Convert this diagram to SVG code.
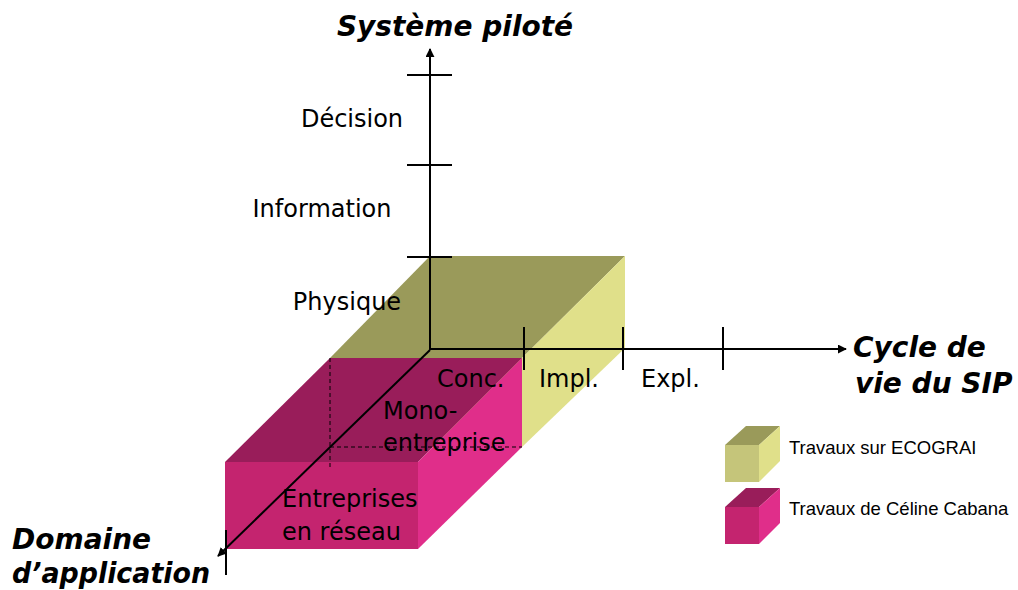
<svg xmlns="http://www.w3.org/2000/svg" width="1018" height="590" viewBox="0 0 1018 590">
<defs>
<style>
.lbl{font-family:"DejaVu Sans",Verdana,sans-serif;font-size:24px;fill:#000}
.ttl{font-family:"DejaVu Sans",Verdana,sans-serif;font-size:28px;font-weight:bold;font-style:italic;fill:#000}
.leg{font-family:"Liberation Sans",Arial,sans-serif;font-size:18.5px;fill:#000}
.ax{stroke:#000;stroke-width:2;fill:none}
.tk{stroke:#000;stroke-width:2}
.dash{stroke:#000;stroke-width:1;stroke-dasharray:4,3;fill:none}
.oliveTop{fill:#9a9a5a}
.yelSide{fill:#e0e08a}
.yelFront{fill:#c5c57a}
.magTop{fill:#991d5a}
.magFront{fill:#c4246f}
.magSide{fill:#e02e8a}
</style>
<marker id="arr" viewBox="0 0 10 10" refX="9" refY="5" markerWidth="9" markerHeight="9" markerUnits="userSpaceOnUse" orient="auto">
<path d="M0,0 L10,5 L0,10 z" fill="#000"/>
</marker>
</defs>
<rect width="1018" height="590" fill="#fff"/>

<g id="box-ecograi">
<polygon class="yelFront" points="330,358 522,358 522,447 330,447"/>
<polygon class="oliveTop" points="330,358 522,358 625,256 430,256"/>
<polygon class="yelSide" points="522,358 625,256 625,348 522,447"/>
</g>

<g id="box-cabana">
<polygon class="magTop" points="225,462 418,462 522,358 330,358"/>
<polygon class="magFront" points="225,462 418,462 418,549 225,549"/>
<polygon class="magSide" points="418,462 522,358 522,447 418,549"/>
</g>

<g id="connectors">
<line class="dash" x1="330" y1="358" x2="330" y2="467"/>
<line class="dash" x1="330" y1="447" x2="522" y2="447"/>
<line class="ax" x1="430" y1="350" x2="430" y2="49" marker-end="url(#arr)"/>
<line class="ax" x1="430" y1="349" x2="846" y2="349" marker-end="url(#arr)"/>
<line class="ax" x1="430" y1="350" x2="218" y2="556" stroke-width="1.5" marker-end="url(#arr)"/>
<line class="tk" x1="407" y1="75" x2="452" y2="75"/>
<line class="tk" x1="407" y1="165" x2="452" y2="165"/>
<line class="tk" x1="407" y1="257" x2="452" y2="257"/>
<line class="tk" x1="524" y1="327" x2="524" y2="370"/>
<line class="tk" x1="623" y1="327" x2="623" y2="370"/>
<line class="tk" x1="723" y1="327" x2="723" y2="370"/>
<line class="tk" x1="226" y1="530" x2="226" y2="575"/>
</g>

<g id="labels">
<text class="lbl" x="352" y="127" text-anchor="middle">Décision</text>
<text class="lbl" x="322" y="217" text-anchor="middle">Information</text>
<text class="lbl" x="347" y="310" text-anchor="middle">Physique</text>
<text class="lbl" x="437" y="387">Conc.</text>
<text class="lbl" x="539" y="387">Impl.</text>
<text class="lbl" x="641" y="387">Expl.</text>
<text class="lbl" x="383" y="419">Mono-</text>
<text class="lbl" x="383" y="451">entreprise</text>
<text class="lbl" x="282" y="507">Entreprises</text>
<text class="lbl" x="282" y="540">en réseau</text>
</g>

<g id="titles">
<text class="ttl" x="455" y="36" text-anchor="middle">Système piloté</text>
<text class="ttl" x="853" y="357">Cycle de</text>
<text class="ttl" x="855" y="393">vie du SIP</text>
<text class="ttl" x="12" y="549">Domaine</text>
<text class="ttl" x="12" y="583" textLength="198" lengthAdjust="spacingAndGlyphs">d’application</text>
</g>

<g id="legend-ecograi">
<polygon class="yelFront" points="725,445 759,445 759,482 725,482"/>
<polygon class="oliveTop" points="725,445 759,445 780,426 746,426"/>
<polygon class="yelSide" points="759,445 780,426 780,461 759,482"/>
<text class="leg" x="789" y="454">Travaux sur ECOGRAI</text>
</g>

<g id="legend-cabana">
<polygon class="magFront" points="725,507 759,507 759,544 725,544"/>
<polygon class="magTop" points="725,507 759,507 780,488 746,488"/>
<polygon class="magSide" points="759,507 780,488 780,523 759,544"/>
<text class="leg" x="789" y="515">Travaux de Céline Cabana</text>
</g>
</svg>
